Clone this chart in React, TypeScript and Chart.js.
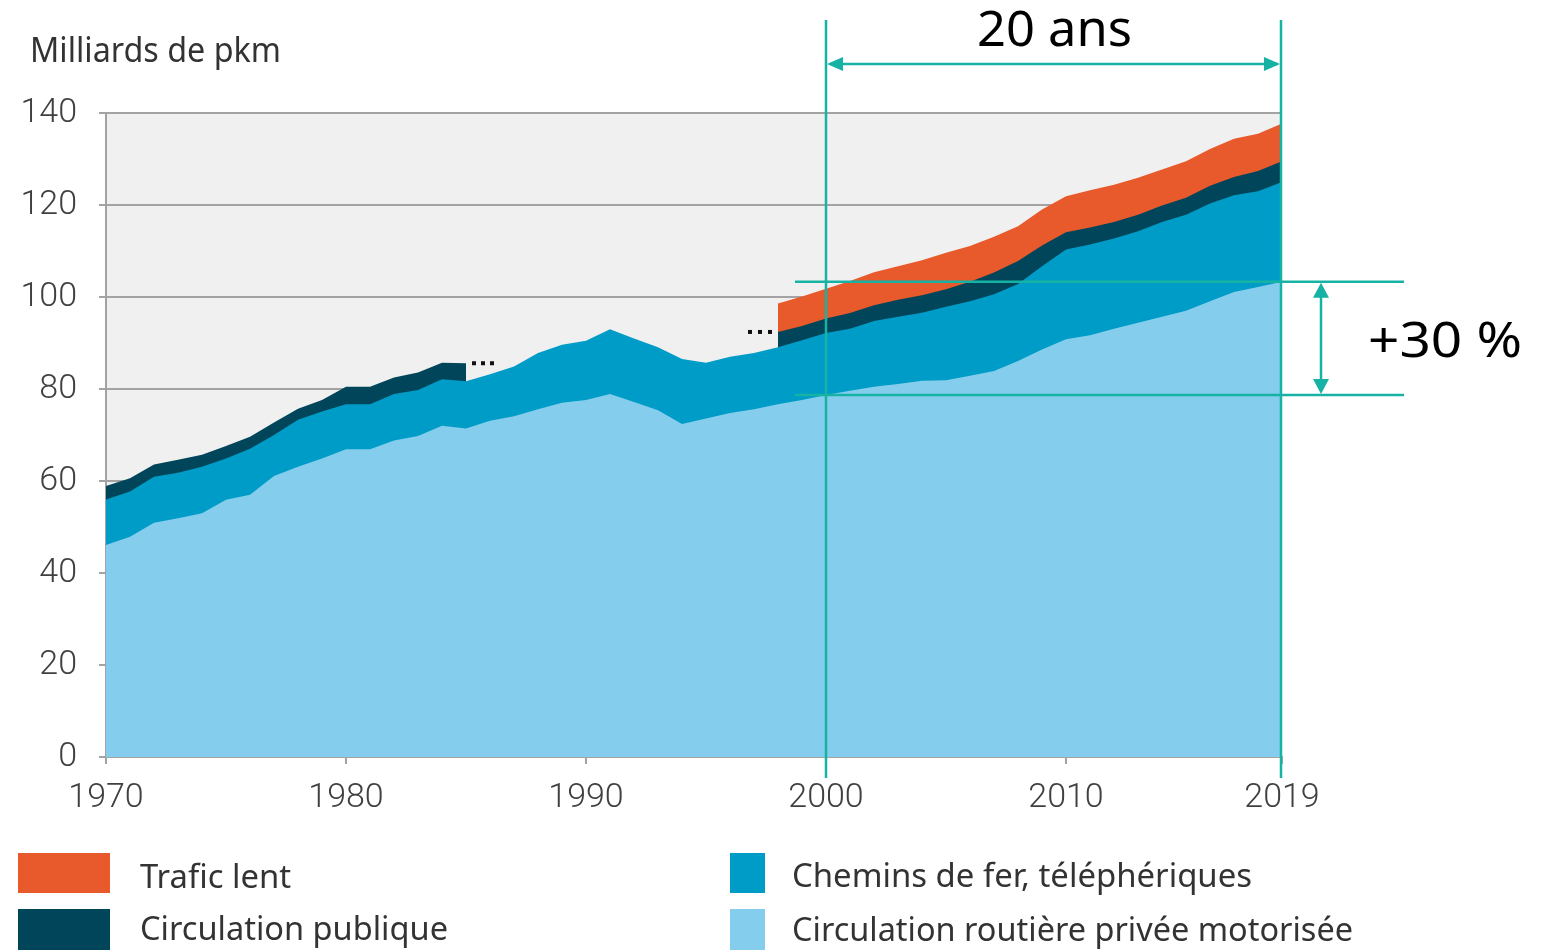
import React, { useEffect, useRef } from "react";
import { Chart, registerables } from "chart.js";

Chart.register(...registerables);

// ---------- DATA ----------
const years = [
  1970, 1971, 1972, 1973, 1974, 1975, 1976, 1977, 1978, 1979,
  1980, 1981, 1982, 1983, 1984, 1985, 1986, 1987, 1988, 1989,
  1990, 1991, 1992, 1993, 1994, 1995, 1996, 1997, 1998, 1999,
  2000, 2001, 2002, 2003, 2004, 2005, 2006, 2007, 2008, 2009,
  2010, 2011, 2012, 2013, 2014, 2015, 2016, 2017, 2018, 2019,
];

// Circulation routière privée motorisée (milliards de pkm)
const privateRoad = [
  46.1, 47.9, 50.9, 51.9, 53.0, 55.9, 57.0, 61.1, 63.1, 64.9,
  66.9, 66.9, 68.8, 69.8, 72.0, 71.4, 73.1, 74.1, 75.6, 77.0,
  77.6, 78.9, 77.2, 75.4, 72.4, 73.6, 74.8, 75.6, 76.7, 77.6,
  78.7, 79.6, 80.5, 81.1, 81.8, 81.9, 82.9, 83.9, 86.1, 88.6,
  90.8, 91.7, 93.1, 94.4, 95.7, 97.0, 99.1, 101.1, 102.2, 103.3,
];

// Chemins de fer, téléphériques
const rail = [
  9.9, 9.8, 10.0, 9.9, 10.1, 9.0, 10.0, 8.9, 10.2, 10.2,
  9.8, 9.8, 10.1, 10.0, 10.1, 10.3, 10.1, 10.8, 12.2, 12.6,
  12.9, 14.1, 13.8, 13.7, 14.1, 12.1, 12.2, 12.2, 12.4, 13.0,
  13.5, 13.5, 14.3, 14.6, 14.8, 16.0, 16.2, 16.7, 16.7, 18.1,
  19.5, 19.7, 19.6, 19.9, 20.6, 20.9, 21.2, 21.0, 20.8, 21.7,
];

// Circulation publique (no data 1986–1997)
const publicTransport: (number | null)[] = [
  2.9, 2.9, 2.7, 2.8, 2.6, 2.7, 2.6, 2.7, 2.4, 2.5,
  3.8, 3.8, 3.6, 3.8, 3.6, 3.9, null, null, null, null,
  null, null, null, null, null, null, null, null, 3.3, 3.1,
  3.1, 3.4, 3.4, 3.7, 3.8, 3.8, 4.2, 4.7, 5.0, 4.5,
  3.8, 3.7, 3.6, 3.6, 3.6, 3.7, 3.9, 4.0, 4.4, 4.5,
];

// Trafic lent (data from 1998)
const slowTraffic: (number | null)[] = [
  null, null, null, null, null, null, null, null, null, null,
  null, null, null, null, null, null, null, null, null, null,
  null, null, null, null, null, null, null, null, 6.2, 6.4,
  6.5, 7.0, 7.2, 7.3, 7.6, 7.9, 7.8, 7.8, 7.6, 7.8,
  7.8, 8.1, 8.1, 8.0, 7.8, 7.9, 8.0, 8.3, 8.1, 8.2,
];

const xTickValues = [1970, 1980, 1990, 2000, 2010, 2019];
const yTickValues = [0, 20, 40, 60, 80, 100, 120, 140];

const spanStartYear = 2000;
const spanEndYear = 2019;

const titleText = "Milliards de pkm";
const spanLabel = "20 ans";
const growthLabel = "+30 %";

const seriesNames = [
  "Trafic lent",
  "Circulation publique",
  "Chemins de fer, téléphériques",
  "Circulation routière privée motorisée",
];

// ---------- STYLE ----------
const COLORS = {
  slow: "#e8592b",
  public: "#00455a",
  rail: "#009cc8",
  private: "#85cdec",
  plotBg: "#f0f0f0",
  grid: "#a3a3a3",
  teal: "#16b3a5",
  text: "#333333",
  tick: "#404040",
};

// ---------- derived stacked tops ----------
const railTop = privateRoad.map((v, i) => v + rail[i]);
const publicTop = publicTransport.map((v, i) => (v == null ? null : railTop[i] + v));
const slowTop = slowTraffic.map((v, i) =>
  v == null ? null : (publicTop[i] != null ? (publicTop[i] as number) : railTop[i]) + v
);

const toPoints = (arr: (number | null)[]) => years.map((yr, i) => ({ x: yr, y: arr[i] }));

function fitText(
  ctx: CanvasRenderingContext2D,
  text: string,
  x: number,
  y: number,
  width: number,
  font: string,
  color: string
) {
  ctx.save();
  ctx.font = font;
  ctx.fillStyle = color;
  ctx.textAlign = "left";
  ctx.textBaseline = "alphabetic";
  const w = ctx.measureText(text).width;
  ctx.translate(x, y);
  ctx.scale(width / w, 1);
  ctx.fillText(text, 0, 0);
  ctx.restore();
}

const plotBgPlugin = {
  id: "plotBg",
  beforeDraw(chart: any) {
    const { ctx, chartArea } = chart;
    ctx.save();
    ctx.fillStyle = COLORS.plotBg;
    ctx.fillRect(chartArea.left, chartArea.top, chartArea.right - chartArea.left, chartArea.bottom - chartArea.top);
    ctx.restore();
  },
};

const overlayPlugin = {
  id: "overlay",
  afterDraw(chart: any) {
    const { ctx } = chart;
    const xs = chart.scales.x;
    const ys = chart.scales.y;

    // gap markers "..."
    ctx.save();
    ctx.fillStyle = "#111";
    const iGapStart = years.indexOf(1985);
    const iGapEnd = years.indexOf(1998);
    const yA = ys.getPixelForValue(publicTop[iGapStart] as number);
    const xA = xs.getPixelForValue(1985) + 6;
    for (let k = 0; k < 3; k++) ctx.fillRect(xA + k * 9, yA - 2, 4, 4);
    const yB = ys.getPixelForValue(publicTop[iGapEnd] as number);
    const xB = xs.getPixelForValue(1998) - 30;
    for (let k = 0; k < 3; k++) ctx.fillRect(xB + k * 10, yB - 2, 4, 4);
    ctx.restore();

    // title
    fitText(ctx, titleText, 30, 62, 251, "400 34px 'Noto Sans'", COLORS.text);

    // teal annotations
    const x0 = xs.getPixelForValue(spanStartYear);
    const x1 = xs.getPixelForValue(spanEndYear) - 1;
    const iS = years.indexOf(spanStartYear);
    const iE = years.indexOf(spanEndYear);
    const yLow = ys.getPixelForValue(privateRoad[iS]);
    const yHigh = ys.getPixelForValue(privateRoad[iE]);

    ctx.save();
    ctx.strokeStyle = COLORS.teal;
    ctx.fillStyle = COLORS.teal;
    ctx.lineWidth = 2.5;
    ctx.beginPath();
    ctx.moveTo(x0, 20);
    ctx.lineTo(x0, 778);
    ctx.moveTo(x1, 20);
    ctx.lineTo(x1, 778);
    // horizontal span arrow
    const yArr = 64;
    ctx.moveTo(x0 + 4, yArr);
    ctx.lineTo(x1 - 4, yArr);
    // +30% guide lines
    ctx.moveTo(x0 - 31, yHigh);
    ctx.lineTo(x1 + 123, yHigh);
    ctx.moveTo(x0 - 31, yLow);
    ctx.lineTo(x1 + 123, yLow);
    // vertical arrow
    const xv = x1 + 40;
    ctx.moveTo(xv, yHigh + 4);
    ctx.lineTo(xv, yLow - 4);
    ctx.stroke();

    // arrowheads
    ctx.beginPath();
    ctx.moveTo(x0 + 1, yArr);
    ctx.lineTo(x0 + 17, yArr - 7);
    ctx.lineTo(x0 + 17, yArr + 7);
    ctx.closePath();
    ctx.moveTo(x1 - 1, yArr);
    ctx.lineTo(x1 - 17, yArr - 7);
    ctx.lineTo(x1 - 17, yArr + 7);
    ctx.closePath();
    ctx.moveTo(xv, yHigh + 1);
    ctx.lineTo(xv - 8, yHigh + 16);
    ctx.lineTo(xv + 8, yHigh + 16);
    ctx.closePath();
    ctx.moveTo(xv, yLow - 1);
    ctx.lineTo(xv - 8, yLow - 16);
    ctx.lineTo(xv + 8, yLow - 16);
    ctx.closePath();
    ctx.fill();
    ctx.restore();

    fitText(ctx, spanLabel, 977, 46, 155, "400 50px 'Noto Sans'", "#000");
    fitText(ctx, growthLabel, 1368, 357, 154, "400 50px 'Noto Sans'", "#000");

    // legend
    const legendColors = [COLORS.slow, COLORS.public, COLORS.rail, COLORS.private];
    const boxes = [
      { x: 18, y: 853, w: 92, h: 40, tx: 140, ty: 888, tw: 151 },
      { x: 18, y: 909, w: 92, h: 41, tx: 140, ty: 940, tw: 308 },
      { x: 730, y: 853, w: 35, h: 40, tx: 792, ty: 887, tw: 460 },
      { x: 730, y: 909, w: 35, h: 41, tx: 792, ty: 941, tw: 561 },
    ];
    boxes.forEach((b, i) => {
      ctx.save();
      ctx.fillStyle = legendColors[i];
      ctx.fillRect(b.x, b.y, b.w, b.h);
      ctx.restore();
      fitText(ctx, seriesNames[i], b.tx, b.ty, b.tw, "400 33px 'Noto Sans'", COLORS.text);
    });
  },
};

export default function App() {
  const ref = useRef<HTMLCanvasElement>(null);

  useEffect(() => {
    document.body.style.margin = "0";
    const canvas = ref.current!;
    const common = {
      borderWidth: 0,
      borderColor: "rgba(0,0,0,0)",
      pointRadius: 0,
      pointHoverRadius: 0,
      tension: 0,
      spanGaps: false,
      fill: "origin" as const,
    };
    const chart = new Chart(canvas, {
      type: "line",
      data: {
        datasets: [
          { ...common, label: seriesNames[3], data: toPoints(privateRoad), backgroundColor: COLORS.private },
          { ...common, label: seriesNames[2], data: toPoints(railTop), backgroundColor: COLORS.rail },
          { ...common, label: seriesNames[1], data: toPoints(publicTop), backgroundColor: COLORS.public },
          { ...common, label: seriesNames[0], data: toPoints(slowTop), backgroundColor: COLORS.slow },
        ],
      },
      options: {
        animation: false,
        responsive: false,
        events: [],
        layout: { padding: { top: 113, left: 0, right: 265, bottom: 123 } },
        plugins: {
          legend: { display: false },
          title: { display: false },
          tooltip: { enabled: false },
        },
        scales: {
          x: {
            type: "linear",
            min: 1970,
            max: 2019,
            afterFit: (s: any) => {
              s.height = 70;
            },
            afterBuildTicks: (s: any) => {
              s.ticks = xTickValues.map((v) => ({ value: v }));
            },
            grid: {
              drawOnChartArea: false,
              drawTicks: true,
              tickLength: 7,
              color: COLORS.grid,
              lineWidth: 2,
            },
            border: { display: true, color: COLORS.grid, width: 2 },
            ticks: {
              autoSkip: false,
              maxRotation: 0,
              padding: 14,
              color: COLORS.tick,
              font: { family: "Roboto", size: 34, weight: "300" as any },
              callback: (v: any) => String(v),
            },
          },
          y: {
            min: 0,
            max: 140,
            afterFit: (s: any) => {
              s.width = 106;
            },
            afterBuildTicks: (s: any) => {
              s.ticks = yTickValues.map((v) => ({ value: v }));
            },
            grid: {
              drawOnChartArea: true,
              drawTicks: true,
              tickLength: 7,
              color: COLORS.grid,
              lineWidth: 2,
            },
            border: { display: true, color: COLORS.grid, width: 2 },
            ticks: {
              padding: 22,
              color: COLORS.tick,
              font: { family: "Roboto", size: 34, weight: "300" as any },
              callback: (v: any) => String(v),
            },
          },
        },
      },
      plugins: [plotBgPlugin, overlayPlugin],
    });
    return () => chart.destroy();
  }, []);

  return <canvas ref={ref} width={1547} height={950} style={{ display: "block" }} />;
}
